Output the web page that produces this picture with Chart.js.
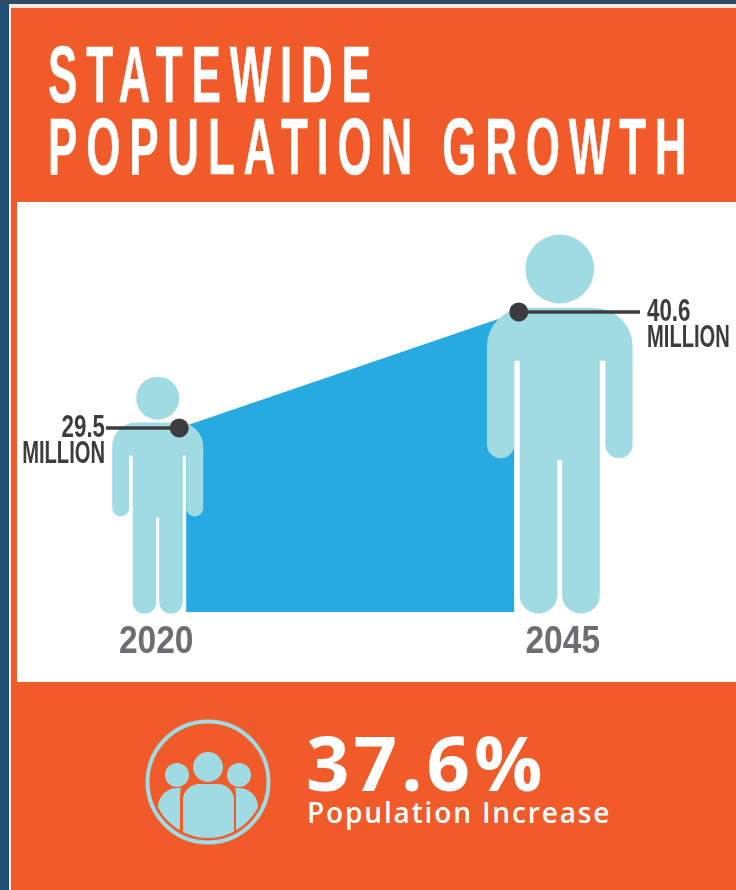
<!DOCTYPE html>
<html>
<head>
<meta charset="utf-8">
<script src="https://cdn.jsdelivr.net/npm/chart.js@4"></script>
<style>
html,body{margin:0;padding:0;background:#f15a29;}
#page{position:relative;width:736px;height:890px;overflow:hidden;background:#f15a29;}
.abs{position:absolute;}
.title{left:48px;color:#fff;font-family:"Liberation Sans",sans-serif;font-weight:700;font-size:80px;line-height:81px;letter-spacing:16px;white-space:nowrap;transform:scaleX(0.55);transform-origin:0 0;-webkit-text-stroke:0.5px #fff;}
#pct{left:306px;top:712px;color:#fff;font-family:"Open Sans",sans-serif;font-weight:700;font-size:76px;line-height:100px;letter-spacing:4px;white-space:nowrap;}
#sub{left:307px;top:792px;color:#fff;font-family:"Open Sans",sans-serif;font-weight:600;font-size:28px;line-height:40px;letter-spacing:1.85px;white-space:nowrap;}
canvas{position:absolute;left:0;top:0;}
</style>
</head>
<body>
<div id="page">
  <div class="abs" style="left:0;top:0;width:9px;height:890px;background:#1f4f75"></div>
  <div class="abs" style="left:0;top:0;width:736px;height:4px;background:#2c4a62"></div>
  <div class="abs" style="left:9px;top:4px;width:727px;height:4px;background:#fde6dc"></div>
  <div class="abs" style="left:9px;top:4px;width:2px;height:886px;background:#fde6dc"></div>
  <div class="abs" style="left:17px;top:202px;width:719px;height:480px;background:#fff"></div>
  <div class="abs title" style="top:34px">STATEWIDE</div>
  <div class="abs title" style="top:106px">POPULATION GROWTH</div>
  <svg class="abs" style="left:140px;top:714px" width="136" height="136" viewBox="140 714 136 136">
    <defs><clipPath id="c"><circle cx="208" cy="782" r="56"/></clipPath></defs>
    <circle cx="208" cy="782" r="60.5" fill="none" stroke="#a0dae3" stroke-width="4"/>
    <g fill="#a0dae3">
      <circle cx="208" cy="767" r="15"/>
      <circle cx="177" cy="775" r="12"/>
      <circle cx="239" cy="775" r="12"/>
      <g clip-path="url(#c)">
        <path d="M158 850V807a19 19 0 0 1 19-19h4a24 24 0 0 0 -1 8V850Z"/>
        <path d="M258 850V807a19 19 0 0 0 -19-19h-4a24 24 0 0 1 1 8V850Z"/>
        <path d="M183 850V800a16 16 0 0 1 16-16h19a16 16 0 0 1 16 16V850Z"/>
      </g>
    </g>
  </svg>
  <div class="abs" id="pct">37.6%</div>
  <div class="abs" id="sub">Population Increase</div>
  <canvas id="chart" width="736" height="890"></canvas>
</div>
<script>
const years = [2020, 2045];
const population = [29.5, 40.6];
const unitLabel = "MILLION";

const blue = "#27aae1", light = "#a0dae3", dark = "#3c3c3e", grey = "#6d6e71";
const figureScale = [1, 1.6];
const figureShift = [1.5, -3];
const leaderEnd = [106, 640];
const labelFont = 'bold 31px "Liberation Sans"';
const tickFont = 'bold 39px "Liberation Sans"';

function rr(ctx, x, y, w, h, r) { ctx.beginPath(); ctx.roundRect(x, y, w, h, r); ctx.fill(); }

function drawFigure(ctx, cx, footY, s) {
  ctx.save();
  ctx.translate(cx, footY);
  ctx.scale(s, s);
  ctx.fillStyle = "#fff";
  ctx.fillRect(-28.5, -159, 57, 160);
  ctx.fillStyle = light;
  ctx.beginPath(); ctx.arc(0, -215.3, 21.5, 0, Math.PI * 2); ctx.fill();
  rr(ctx, -45.5, -191, 91, 33, [24, 24, 0, 0]);
  rr(ctx, -45.5, -159, 17, 62, [0, 0, 8.5, 8.5]);
  rr(ctx, 28.5, -159, 17, 62, [0, 0, 8.5, 8.5]);
  ctx.fillRect(-25, -160, 50, 64);
  rr(ctx, -25, -97, 23.5, 97, [0, 0, 11.5, 11.5]);
  rr(ctx, 1.5, -97, 23.5, 97, [0, 0, 11.5, 11.5]);
  ctx.restore();
}

function squeezedText(ctx, text, x, y, align, font, color, sx) {
  ctx.save();
  ctx.translate(x, y);
  ctx.scale(sx, 1);
  ctx.font = font;
  ctx.fillStyle = color;
  ctx.textAlign = align;
  ctx.textBaseline = "alphabetic";
  ctx.fillText(text, 0, 0);
  ctx.restore();
}

const figurePlugin = {
  id: "figures",
  afterDatasetDraw(chart, args) {
    if (args.index !== 0) return;
    const ctx = chart.ctx, labelX = chart.scales.xYear, base = chart.chartArea.bottom;
    years.forEach((yr, i) => {
      drawFigure(ctx, labelX.getPixelForValue(yr) + figureShift[i], base + 1.5, figureScale[i]);
    });
  },
  afterDatasetsDraw(chart) {
    const ctx = chart.ctx, sx = chart.scales.x, sy = chart.scales.y, labelX = chart.scales.xYear;
    years.forEach((yr, i) => {
      const px = sx.getPixelForValue(yr), py = sy.getPixelForValue(population[i]);
      ctx.save();
      ctx.strokeStyle = dark;
      ctx.lineWidth = 3.5;
      ctx.beginPath(); ctx.moveTo(px, py); ctx.lineTo(leaderEnd[i], py); ctx.stroke();
      ctx.restore();
      const left = i === 1;
      const x = left ? leaderEnd[i] + 7 : leaderEnd[i] - 1;
      const align = left ? "left" : "right";
      squeezedText(ctx, population[i].toFixed(1), x, py + 8.5, align, labelFont, dark, 0.72);
      squeezedText(ctx, unitLabel, x, py + 35, align, labelFont, dark, 0.65);
    });
    labelX.ticks.forEach(t => {
      squeezedText(ctx, String(t.value), labelX.getPixelForValue(t.value), chart.chartArea.bottom + 41, "center", tickFont, grey, 0.86);
    });
  }
};

new Chart(document.getElementById("chart"), {
  type: "line",
  data: {
    datasets: [
      {
        label: "Population area",
        data: years.map((y, i) => ({ x: y, y: population[i] })),
        backgroundColor: blue,
        borderWidth: 0,
        pointRadius: 0,
        fill: "start",
        tension: 0,
        order: 2
      },
      {
        label: "Population",
        data: years.map((y, i) => ({ x: y, y: population[i] })),
        showLine: false,
        pointRadius: 9.5,
        pointBackgroundColor: dark,
        pointBorderWidth: 0,
        order: 1
      }
    ]
  },
  options: {
    responsive: false,
    animation: false,
    layout: { padding: { left: 17, right: 0, top: 202, bottom: 228 } },
    plugins: { legend: { display: false }, tooltip: { enabled: false }, title: { display: false } },
    scales: {
      x: { type: "linear", display: false, min: 2008.05, max: 2060.3 },
      xYear: {
        type: "linear", axis: "x", position: "bottom",
        min: 2011.44, max: 2055.07,
        afterBuildTicks(s) { s.ticks = years.map(v => ({ value: v })); },
        afterFit(s) { s.height = 50; },
        grid: { display: false, drawTicks: false },
        border: { display: false },
        ticks: { display: false, autoSkip: false, maxRotation: 0 }
      },
      y: { type: "linear", display: false, min: 11.89, max: 51.13 }
    }
  },
  plugins: [figurePlugin]
});
</script>
</body>
</html>
